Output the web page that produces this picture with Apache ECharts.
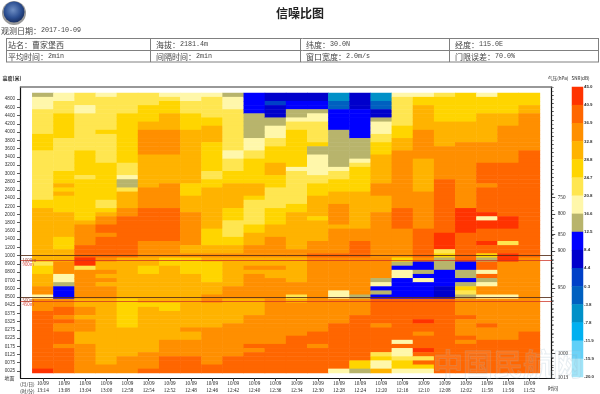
<!DOCTYPE html>
<html>
<head>
<meta charset="utf-8">
<style>
  html, body { margin: 0; padding: 0; background: #fff; }
  #snrChart { width: 600px; height: 394px; }
</style>
<script src="https://cdn.jsdelivr.net/npm/echarts@6/dist/echarts.min.js"></script>
</head>
<body>
<div id="snrChart"></div>
<script>
// 时间轴
var timeLabels = ["13:14","13:08","13:04","13:00","12:58","12:54","12:52","12:48","12:46","12:42","12:40","12:36",
  "12:34","12:30","12:28","12:24","12:20","12:16","12:10","12:08","12:02","11:58","11:56","11:52"];
var dateLabel = "10/09";
// 高度刻度，每个刻度占两行
var heightLabels = ["4800","4600","4400","4200","4000","3800","3600","3400","3200","3000","2800","2600","2400","2200",
  "2000","1800","1600","1400","1200","1000","0900","0800","0700","0600","0500",
  "0425","0375","0325","0275","0225","0175","0125","0075","0025"];
// 气压刻度
var pressureLabels = ["750","800","850","900","950","1000","1013"];
var pressureSteps = [27,31,36,40,49,65,71];
// 色标分档 (dB)，从上到下
var snrEdges = [45.0,40.9,36.9,32.8,28.8,24.7,20.8,16.6,12.5,8.4,4.4,0.3,-3.8,-7.8,-11.9,-15.9,-20.0];
var snrColors = ["#ff3300","#ff6600","#ff8f00","#ffb300","#ffd500","#ffe650","#fff7aa","#b8b46c",
  "#0000ff","#0000cc","#0040c8","#0060c0","#0090c8","#00b0f0","#60d0f8","#a0e4f8"];

// 每一列从上到下读出的色标档 [档, 行数]，档 1 是最上面的红色
var col1314 = [[8,1],[7,3],[6,6],[5,4],[6,12],[5,2],[4,13],[6,1],[5,2],[4,3],[3,2],[7,1],[3,3],[2,14],[1,1]];
var col1308 = [[7,2],[6,3],[5,6],[6,8],[5,3],[4,1],[5,1],[4,1],[5,4],[4,6],[5,3],[4,3],[3,3],[7,2],[8,1],[9,3],[3,2],[2,2],[3,1],[2,1],[3,2],[2,3],[3,1],[2,6]];
var col1304 = [[6,3],[7,2],[6,9],[5,6],[6,1],[5,10],[4,1],[3,5],[2,3],[1,2],[6,1],[3,7],[4,2],[3,2],[4,1],[3,3],[4,3],[3,7]];
var col1300 = [[7,1],[6,8],[5,1],[6,7],[5,9],[6,2],[5,1],[4,1],[3,2],[2,2],[3,1],[2,5],[3,1],[4,2],[3,1],[4,1],[3,1],[4,1],[3,3],[4,16],[3,2]];
var col1258 = [[6,5],[5,12],[6,3],[7,1],[8,2],[6,1],[4,4],[3,2],[2,10],[4,10],[5,7],[4,7],[3,4]];
var col1254 = [[6,3],[5,4],[4,2],[3,6],[4,8],[3,5],[2,8],[3,4],[4,2],[5,2],[4,7],[5,1],[4,11],[3,4],[2,1]];
var col1252 = [[7,1],[6,1],[5,3],[4,4],[3,6],[4,7],[3,6],[2,8],[3,4],[5,2],[4,9],[5,2],[4,7],[3,4],[2,4]];
var col1248 = [[7,2],[6,3],[5,4],[4,13],[5,3],[4,4],[3,8],[4,2],[3,1],[5,4],[4,13],[3,1],[4,2],[3,4],[2,4]];
var col1246 = [[7,1],[6,5],[5,2],[4,4],[5,7],[6,2],[5,2],[4,10],[5,4],[4,2],[3,1],[4,1],[5,5],[4,3],[3,2],[4,6],[3,9],[2,2]];
var col1242 = [[8,1],[7,3],[6,10],[7,2],[6,3],[5,3],[4,6],[5,3],[6,4],[5,2],[4,2],[3,1],[4,7],[3,3],[4,6],[3,8],[2,4]];
var col1240 = [[9,5],[8,6],[7,3],[6,2],[5,6],[4,3],[5,1],[6,6],[5,2],[4,3],[3,3],[4,2],[3,1],[4,1],[3,6],[4,4],[3,7],[2,1],[3,1],[2,5]];
var col1236 = [[10,2],[11,1],[10,3],[8,2],[7,3],[6,2],[5,4],[4,3],[5,3],[6,5],[5,4],[4,3],[3,5],[4,2],[3,1],[4,2],[3,16],[2,7]];
var col1234 = [[10,2],[9,2],[8,2],[7,1],[6,2],[5,9],[7,1],[6,8],[5,2],[4,9],[3,2],[4,6],[3,3],[6,1],[4,1],[3,8],[2,9]];
var col1230 = [[10,2],[9,2],[8,1],[7,2],[6,5],[5,1],[8,2],[7,5],[6,2],[5,3],[4,5],[5,1],[4,5],[3,3],[2,1],[3,18],[2,3],[3,1],[2,6]];
var col1228 = [[13,2],[12,2],[9,5],[8,9],[7,1],[6,2],[5,3],[4,3],[3,5],[4,1],[3,6],[2,1],[3,8],[7,2],[3,6],[2,11],[7,1]];
var col1224 = [[10,4],[9,7],[8,5],[7,1],[6,1],[5,6],[4,9],[3,3],[2,4],[3,9],[8,1],[3,4],[2,11],[5,2],[8,1]];
var col1220 = [[13,2],[12,2],[10,2],[8,1],[7,3],[6,2],[5,3],[4,7],[3,3],[4,4],[3,16],[8,1],[7,1],[9,1],[8,1],[9,1],[2,6],[3,1],[2,6],[6,1],[5,1],[7,2],[4,1]];
var col1216 = [[7,1],[6,7],[5,3],[4,3],[3,14],[2,5],[3,7],[5,1],[8,1],[9,1],[7,2],[9,5],[2,10],[7,1],[2,1],[7,2],[6,1],[5,2],[7,1]];
var col1210 = [[7,1],[5,2],[4,6],[3,7],[4,8],[3,9],[2,7],[3,1],[9,2],[8,1],[9,1],[7,1],[9,4],[2,5],[1,1],[2,2],[3,1],[2,3],[1,1],[2,1],[6,1],[2,1],[5,1],[7,1]];
var col1208 = [[6,1],[5,6],[4,6],[3,8],[2,13],[1,4],[6,1],[5,1],[8,3],[9,4],[10,3],[2,18]];
var col1202 = [[5,7],[4,5],[3,16],[1,6],[2,7],[9,2],[8,2],[9,1],[8,1],[5,1],[6,1],[8,1],[3,4],[2,1],[3,4],[2,1],[3,1],[2,7]];
var col1158 = [[7,1],[5,4],[4,7],[3,5],[2,5],[3,1],[2,6],[1,1],[7,1],[1,2],[2,3],[1,1],[2,2],[5,1],[8,1],[2,2],[7,1],[2,1],[8,1],[7,1],[3,2],[7,1],[3,6],[2,1],[3,3],[2,8]];
var col1156 = [[5,5],[4,3],[3,9],[2,13],[1,3],[2,3],[6,1],[2,2],[1,2],[3,8],[7,1],[3,10],[2,8]];
var col1152 = [[5,3],[4,2],[3,9],[2,26],[3,18],[2,10]];
var columns = [col1314,col1308,col1304,col1300,col1258,col1254,col1252,col1248,col1246,col1242,col1240,col1236,
  col1234,col1230,col1228,col1224,col1220,col1216,col1210,col1208,col1202,col1158,col1156,col1152];

var FONT_CN = '"Noto Sans CJK SC"';
var FONT_NUM = '"Liberation Mono"';

// 档取中值
function levelSnr(level) {
  return +((snrEdges[level - 1] + snrEdges[level]) / 2).toFixed(2);
}

var heatData = [];
columns.forEach(function (runs, c) {
  var r = 0;
  runs.forEach(function (run) {
    for (var i = 0; i < run[1]; i++) {
      heatData.push([c, r, levelSnr(run[0])]);
      r++;
    }
  });
});

var rowLabels = [];
heightLabels.forEach(function (h) {
  rowLabels.push("", h);
});

var legendRows = snrColors.map(function (c, i) {
  return String(i);
});
var legendData = snrColors.map(function (c, i) {
  return [0, i, levelSnr(i + 1)];
});
var legendTicks = snrEdges.map(function (e) {
  return e.toFixed(1);
});

var pressureRows = [];
for (var p = 0; p < 72; p++) {
  var k = pressureSteps.indexOf(p);
  pressureRows.push(k >= 0 ? pressureLabels[k] : "");
}
var frameRows = pressureRows.map(function (v, i) {
  return i === 71 ? "地面" : "";
});

function hiddenPart() {
  return { show: false };
}

// 表头文字，中文和数字分开放
function plainText(x, y, text, font, size) {
  return {
    type: "text",
    x: x,
    y: y,
    style: { text: text, fontFamily: font, fontSize: size, fill: "#444", verticalAlign: "middle" },
  };
}
function headText(x, y, label, value) {
  return {
    type: "group",
    children: [
      plainText(x, y, label, FONT_CN, 8),
      plainText(x + label.length * 8, y, value, FONT_NUM, 6.7),
    ],
  };
}
function smallText(x, y, text, color, size, weight) {
  return {
    type: "text",
    x: x,
    y: y,
    z: 20,
    style: {
      text: text,
      fontFamily: FONT_CN,
      fontSize: size || 5,
      fontWeight: weight || "normal",
      fill: color || "#222",
      verticalAlign: "middle",
    },
  };
}
function tableLine(x1, y1, x2, y2) {
  return {
    type: "line",
    shape: { x1: x1, y1: y1, x2: x2, y2: y2 },
    style: { stroke: "#808080", lineWidth: 1 },
  };
}

var graphics = [
  // 标志
  { type: "circle", shape: { cx: 14, cy: 13, r: 12 }, style: { fill: "#9a9a9a" } },
  {
    type: "circle",
    shape: { cx: 14, cy: 12, r: 10.5 },
    style: {
      fill: {
        type: "radial", x: 0.45, y: 0.4, r: 0.7,
        colorStops: [
          { offset: 0, color: "#6f8fc4" },
          { offset: 0.55, color: "#2c4f92" },
          { offset: 1, color: "#10224e" },
        ],
      },
    },
  },
  {
    type: "text",
    x: 300,
    y: 13,
    style: {
      text: "信噪比图",
      fontFamily: FONT_CN,
      fontSize: 12,
      fontWeight: "bold",
      fill: "#222",
      align: "center",
      verticalAlign: "middle",
    },
  },
  headText(1, 30.5, "观测日期：", "2017-10-09"),
  // 站点信息表
  tableLine(6, 38.5, 599, 38.5),
  tableLine(6, 50.5, 599, 50.5),
  tableLine(6, 62, 599, 62),
  tableLine(6.5, 38, 6.5, 62),
  tableLine(150.5, 38, 150.5, 62),
  tableLine(300.5, 38, 300.5, 62),
  tableLine(449.5, 38, 449.5, 62),
  tableLine(598.5, 38, 598.5, 62),
  plainText(8, 44.5, "站名：曹家堡西", FONT_CN, 8),
  headText(156, 44.5, "海拔：", "2181.4m"),
  headText(306, 44.5, "纬度：", "30.0N"),
  headText(455, 44.5, "经度：", "115.0E"),
  headText(8, 56.5, "平均时间：", "2min"),
  headText(156, 56.5, "间隔时间：", "2min"),
  headText(306, 56.5, "窗口宽度：", "2.0m/s"),
  headText(455, 56.5, "门限误差：", "70.0%"),
  // 轴标题
  smallText(2.5, 78, "高度(米)", "#222", 5, "bold"),
  smallText(548, 78, "气压(hPa)", "#222", 4.6),
  smallText(571.5, 78, "SNR(dB)", "#222", 4.6),
  smallText(20, 384, "(月/日)", "#222", 4.8),
  smallText(20, 391, "(时/分)", "#222", 4.8),
  smallText(548, 388, "时间", "#222", 5),
  // 参考线标注
  smallText(22.5, 260, "1000m", "#9a4a3a", 4.4),
  smallText(22.5, 264.2, "900m", "#d8443a", 4.4),
  smallText(22.5, 300.7, "500m", "#9a4a3a", 4.4),
  smallText(22.5, 304.8, "450m", "#d8443a", 4.4),
  // 水印
  {
    type: "text",
    x: 433,
    y: 364,
    z: 30,
    style: {
      text: "中国民航网",
      fontFamily: FONT_CN,
      fontSize: 30,
      fontWeight: "bold",
      fill: "rgba(255,255,255,0.08)",
      stroke: "rgba(150,178,195,0.24)",
      lineWidth: 1,
      verticalAlign: "middle",
    },
  },
];

var lineDark = { color: "rgba(85,45,25,0.85)", width: 1, type: "solid" };
var lineRed = { color: "rgba(205,50,35,0.75)", width: 1, type: "solid" };
function refLine(row, style) {
  return [
    { x: 20.5, yAxis: row, lineStyle: style },
    { x: 551.7, yAxis: row, lineStyle: style },
  ];
}

var option = {
  backgroundColor: "#fff",
  animation: false,
  graphic: { elements: graphics },
  visualMap: {
    show: false,
    type: "piecewise",
    dimension: 2,
    seriesIndex: [0, 1],
    pieces: snrColors.map(function (c, i) {
      return { min: snrEdges[i + 1], max: snrEdges[i], color: c };
    }),
  },
  grid: [
    { left: 32.3, top: 93, width: 507.6, height: 280 },
    { left: 20.5, top: 87, width: 531.2, height: 291 },
    { left: 572, top: 87, width: 11, height: 290 },
  ],
  xAxis: [
    {
      type: "category",
      gridIndex: 0,
      data: timeLabels,
      offset: 5,
      axisLine: hiddenPart(),
      axisTick: { show: true, alignWithLabel: true, length: 3, lineStyle: { color: "#333", width: 0.8 } },
      axisLabel: {
        interval: 0,
        margin: 2,
        fontFamily: "Liberation Serif",
        fontSize: 5.2,
        lineHeight: 7,
        color: "#222",
        formatter: function (v) {
          return dateLabel + "\n" + v;
        },
      },
    },
    {
      type: "category",
      gridIndex: 1,
      data: ["", ""],
      axisLine: { show: true, lineStyle: { color: "#111", width: 1.2 } },
      axisTick: hiddenPart(),
      axisLabel: hiddenPart(),
    },
    {
      type: "category",
      gridIndex: 1,
      position: "top",
      data: ["", ""],
      axisLine: { show: true, lineStyle: { color: "#777", width: 1.6 } },
      axisTick: hiddenPart(),
      axisLabel: hiddenPart(),
    },
    {
      type: "category",
      gridIndex: 2,
      data: [""],
      axisLine: hiddenPart(),
      axisTick: hiddenPart(),
      axisLabel: hiddenPart(),
    },
  ],
  yAxis: [
    {
      type: "category",
      gridIndex: 0,
      inverse: true,
      data: rowLabels,
      offset: 11.8,
      axisLine: hiddenPart(),
      axisTick: {
        show: true,
        alignWithLabel: true,
        length: 3.5,
        interval: function (i) { return i % 2 === 1; },
        lineStyle: { color: "#333", width: 0.8 },
      },
      axisLabel: {
        interval: function (i) { return i % 2 === 1; },
        margin: 5.5,
        fontFamily: "Liberation Sans",
        fontSize: 4.6,
        color: "#333",
      },
    },
    {
      type: "category",
      gridIndex: 0,
      inverse: true,
      data: rowLabels,
      offset: 11.8,
      axisLine: hiddenPart(),
      axisLabel: hiddenPart(),
      axisTick: {
        show: true,
        alignWithLabel: true,
        length: 1.8,
        interval: function (i) { return i % 2 === 0; },
        lineStyle: { color: "#333", width: 0.8 },
      },
    },
    {
      // 左框线和地面
      type: "category",
      gridIndex: 1,
      inverse: true,
      boundaryGap: false,
      data: frameRows,
      axisLine: { show: true, lineStyle: { color: "#111", width: 1.2 } },
      axisTick: hiddenPart(),
      axisLabel: {
        interval: 0,
        margin: 6,
        fontFamily: FONT_CN,
        fontSize: 5,
        color: "#333",
      },
    },
    {
      // 气压
      type: "category",
      gridIndex: 1,
      inverse: true,
      position: "right",
      boundaryGap: false,
      data: pressureRows,
      axisLine: { show: true, lineStyle: { color: "#111", width: 1.2 } },
      axisTick: {
        show: true,
        length: 3.5,
        interval: function (i) { return pressureSteps.indexOf(i) >= 0; },
        lineStyle: { color: "#222", width: 0.8 },
      },
      axisLabel: {
        interval: 0,
        margin: 6,
        fontFamily: "Liberation Serif",
        fontSize: 5.2,
        color: "#222",
      },
    },
    {
      type: "category",
      gridIndex: 1,
      inverse: true,
      position: "right",
      boundaryGap: false,
      data: pressureRows,
      axisLine: hiddenPart(),
      axisLabel: hiddenPart(),
      axisTick: {
        show: true,
        length: 2,
        interval: 0,
        lineStyle: { color: "#444", width: 0.6 },
      },
    },
    {
      type: "category",
      gridIndex: 2,
      inverse: true,
      data: legendRows,
      axisLine: hiddenPart(),
      axisTick: hiddenPart(),
      axisLabel: hiddenPart(),
    },
    {
      type: "category",
      gridIndex: 2,
      inverse: true,
      position: "right",
      boundaryGap: false,
      data: legendTicks,
      axisLine: hiddenPart(),
      axisTick: hiddenPart(),
      axisLabel: {
        interval: 0,
        margin: 1,
        fontFamily: "Liberation Sans",
        fontSize: 4.4,
        fontWeight: "bold",
        color: "#333",
      },
    },
  ],
  series: [
    {
      type: "heatmap",
      name: "SNR",
      xAxisIndex: 0,
      yAxisIndex: 0,
      data: heatData,
      silent: true,
      markLine: {
        silent: true,
        symbol: "none",
        label: { show: false },
        animation: false,
        data: [
          refLine(39, lineDark),
          refLine(40, lineRed),
          refLine(49, lineDark),
          refLine(50, lineRed),
        ],
      },
    },
    {
      type: "heatmap",
      name: "色标",
      xAxisIndex: 3,
      yAxisIndex: 5,
      data: legendData,
      silent: true,
    },
  ],
};

var myChart = echarts.init(document.getElementById("snrChart"), null, { renderer: "canvas" });
myChart.setOption(option);
</script>
</body>
</html>
